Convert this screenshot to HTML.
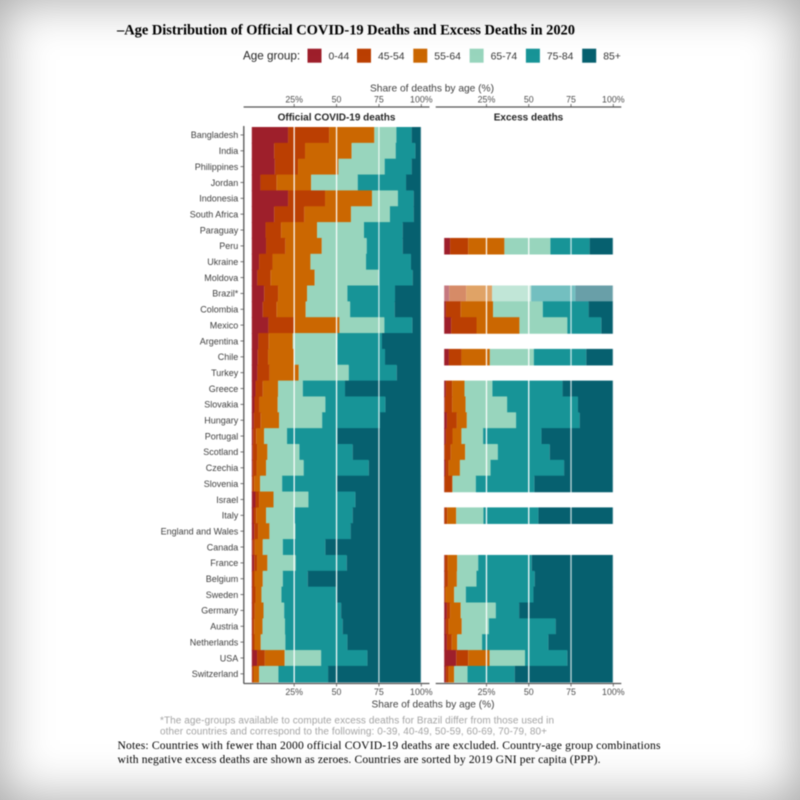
<!DOCTYPE html>
<html lang="en">
<head>
<meta charset="utf-8">
<title>Age Distribution of Official COVID-19 Deaths and Excess Deaths in 2020</title>
<style>
html,body{margin:0;padding:0;background:#fff;}
#frame{position:relative;width:800px;height:800px;overflow:hidden;background:#fff;}
#chart{position:absolute;left:0;top:0;filter:blur(0.45px);}
#vignette{position:absolute;left:0;top:0;width:800px;height:800px;box-shadow:inset 0 0 50px rgba(0,0,0,.36);pointer-events:none;}
text{font-family:"Liberation Sans",Arial,sans-serif;}
.serif{font-family:"Liberation Serif","Times New Roman",serif;fill:#000;}
</style>
</head>
<body>
<div id="frame">
<svg id="chart" width="800" height="800" viewBox="0 0 800 800" xmlns="http://www.w3.org/2000/svg">
  <text class="serif" x="117" y="34.5" font-size="14.5" font-weight="700" textLength="458" lengthAdjust="spacing">–Age Distribution of Official COVID-19 Deaths and Excess Deaths in 2020</text>
  <text x="243" y="59.5" font-size="11.7" fill="#262626">Age group:</text>
  <g id="legend"></g>
  <text x="432" y="91.5" font-size="10.2" fill="#404040" text-anchor="middle">Share of deaths by age (%)</text>
  <text x="336.5" y="120.5" font-size="10" font-weight="700" fill="#262626" text-anchor="middle">Official COVID-19 deaths</text>
  <text x="528.5" y="120.5" font-size="10" font-weight="700" fill="#262626" text-anchor="middle">Excess deaths</text>
  <g id="bars"></g>
  <g id="grid"></g>
  <g id="axes"></g>
  <text x="433" y="707.5" font-size="10.1" fill="#404040" text-anchor="middle">Share of deaths by age (%)</text>
  <text x="160" y="723.5" font-size="10" fill="#a3a3a3" textLength="394" lengthAdjust="spacing">*The age-groups available to compute excess deaths for Brazil differ from those used in</text>
  <text x="160" y="734.5" font-size="10" fill="#a3a3a3" textLength="387" lengthAdjust="spacing">other countries and correspond to the following: 0-39, 40-49, 50-59, 60-69, 70-79, 80+</text>
  <text class="serif" x="117.5" y="749" font-size="11.6" textLength="543" lengthAdjust="spacing">Notes: Countries with fewer than 2000 official COVID-19 deaths are excluded. Country-age group combinations</text>
  <text class="serif" x="117.5" y="763" font-size="11.6" textLength="483" lengthAdjust="spacing">with negative excess deaths are shown as zeroes. Countries are sorted by 2019 GNI per capita (PPP).</text>
</svg>
<div id="vignette"></div>
</div>
<script>
const countries = ["Bangladesh","India","Philippines","Jordan","Indonesia","South Africa","Paraguay","Peru","Ukraine","Moldova","Brazil*","Colombia","Mexico","Argentina","Chile","Turkey","Greece","Slovakia","Hungary","Portugal","Scotland","Czechia","Slovenia","Israel","Italy","England and Wales","Canada","France","Belgium","Sweden","Germany","Austria","Netherlands","USA","Switzerland"];
const ageGroups = ["0-44","45-54","55-64","65-74","75-84","85+"];
const ageColors = ["#9e1f2b","#bb3f02","#cb6701","#98d5bd","#179497","#06606f"];
const tickValues = [25,50,75,100];
const tickLabels = ["25%","50","75","100%"];

const official0044 = [21.4,13.2,13.6,5.1,21.4,13.2,8.1,8.4,4.3,3.3,7.3,6.5,9.8,3.9,3.5,3.3,2.2,1.6,1.2,0.8,0.6,0.6,0.3,2.2,1,1.4,0.6,1.4,0.4,0.4,0.4,0.4,0.4,3.1,0.2];
const official4554 = [24.2,18.2,13.7,9.6,21.8,17.8,9.2,11.4,7.9,7.9,8.2,8.2,15.2,6.1,6.1,7.1,4.3,2.9,4.1,1.8,2.5,2.2,1.1,2.1,1.6,2.3,1.2,1.7,1.2,1.8,1.4,1,1.2,4.6,0.8];
const official5564 = [26.7,27.5,23.8,20.3,27.7,27.5,21.2,21.5,22.4,25.9,17.1,17.1,26.7,14.2,15.5,17.3,9,10.8,10.8,4.7,6.1,5.6,3.5,8.5,5.8,6.7,4.7,6.1,4.9,3.5,5.1,4.9,3.7,11.7,3.3];
const official6574 = [13,26,27.3,27.5,15.3,23,27.7,26.5,32.8,37.8,23.8,26.2,26.5,26.3,25.4,29.5,14.6,28.1,25.4,13.5,18.9,22.2,13,20.6,16.4,15.3,11.8,16.7,11.8,11.8,12.2,13.3,14.5,21.5,11.4];
const official7584 = [9,11.6,15.9,28.5,9.3,14,22.8,21.2,26.5,20,28.1,26.3,16.5,26.3,28.1,28.3,24.9,35.4,34.1,29.7,31.4,38.4,32.2,27.7,34.7,32.6,25.1,30.1,14.7,32.5,33.6,34,36.6,27.3,29.3];
const official85 = [5.7,3.5,5.7,9,4.5,4.5,11,11,6.1,5.1,15.5,15.7,5.3,23.2,21.4,14.5,45,21.2,24.4,49.5,40.5,31,49.9,38.9,40.5,41.7,56.6,44,67,50,47.3,46.4,43.6,31.8,55];

const excess0044 = [null,null,null,null,null,null,null,3.5,null,null,3,1,4.1,null,2.8,null,1,0.4,1.6,1,0.2,0.8,0.2,null,0.2,null,null,0.4,0.4,0.2,1.6,1,1.6,7.1,1];
const excess4554 = [null,null,null,null,null,null,null,10.7,null,null,10,8.8,15,null,7.4,null,3.7,4.3,5.9,3.9,3.7,1.8,4.5,null,1.6,null,null,1.6,1.8,0.6,1.9,1.6,2.9,7.1,1.6];
const excess5564 = [null,null,null,null,null,null,null,21.4,null,null,15.3,19.1,25.4,null,16.8,null,7.3,7.9,5.9,5.3,8.5,6.7,0.2,null,5.3,null,null,5.7,5.3,5.1,6.3,7.8,3.2,12.6,3.3];
const excess6574 = [null,null,null,null,null,null,null,27.2,null,null,23.1,29.4,28.3,null,26,null,16.5,24.6,29.1,12.8,19.3,18.1,13.8,null,16.1,null,null,12.4,11.6,6.9,20.7,16,14.7,21,7.9];
const excess7584 = [null,null,null,null,null,null,null,23.2,null,null,26.2,27.1,20.1,null,31,null,41.5,41.9,37.6,34.5,30.7,43.5,34.6,null,32.5,null,null,31.7,34.4,40,13.8,39.5,39.2,25,27.9];
const excess85 = [null,null,null,null,null,null,null,14,null,null,22.4,14.6,7.1,null,16,null,30,20.9,19.9,42.5,37.6,29.1,46.7,null,44.3,null,null,48.2,46.5,47.2,55.7,34.1,38.4,27.2,58.3];

const officialSeries = [official0044,official4554,official5564,official6574,official7584,official85];
const excessSeries = [excess0044,excess4554,excess5564,excess6574,excess7584,excess85];

const SVG_NS = "http://www.w3.org/2000/svg";
const ROW_TOP = 127;
const ROW_STEP = 15.85;
const AXIS_TOP = 107;
const AXIS_BOTTOM = 683.5;
const panels = [
  {key:"official", x0:251.8, unit:1.695, axisStart:243.6, axisEnd:429.5, series:officialSeries},
  {key:"excess", x0:444.2, unit:1.691, axisStart:435.7, axisEnd:621.3, series:excessSeries}
];

function make(tag, attrs, text) {
  const el = document.createElementNS(SVG_NS, tag);
  for (const k in attrs) el.setAttribute(k, attrs[k]);
  if (text !== undefined) el.textContent = text;
  return el;
}
function xScale(panel, v) { return panel.x0 + v * panel.unit; }
function yBand(i) { return ROW_TOP + i * ROW_STEP; }
function slug(s) { return s.toLowerCase().replace(/[^a-z0-9]+/g, "-").replace(/-$/, ""); }

const barsGroup = document.getElementById("bars");
const gridGroup = document.getElementById("grid");
const axesGroup = document.getElementById("axes");
const legendGroup = document.getElementById("legend");

panels.forEach(function (panel) {
  countries.forEach(function (country, r) {
    if (panel.series[0][r] === null) return;
    const row = make("g", {opacity: (panel.key === "excess" && country === "Brazil*") ? 0.6 : 1});
    
    
    let cumulative = 0;
    panel.series.forEach(function (values, s) {
      const start = cumulative;
      cumulative += values[r];
      const x1 = xScale(panel, start);
      const x2 = xScale(panel, cumulative);
      const seg = make("rect", {x: x1, y: yBand(r), width: Math.max(0, x2 - x1), height: ROW_STEP + 0.7, fill: ageColors[s]});
      
      
      row.appendChild(seg);
    });
    barsGroup.appendChild(row);
  });

  tickValues.forEach(function (t, i) {
    const x = xScale(panel, t);
    const line = make("line", {x1: x, x2: x, y1: ROW_TOP, y2: AXIS_BOTTOM - 1, stroke: "#fff", "stroke-width": 1.3, "stroke-opacity": t === 25 || t === 50 ? 0.95 : 0.75});
    
    
    gridGroup.appendChild(line);

    const topTick = make("line", {x1: x, x2: x, y1: AXIS_TOP - 3, y2: AXIS_TOP, stroke: "#555", "stroke-width": 0.8});
    
    
    axesGroup.appendChild(topTick);

    const topLabel = make("text", {x: x, y: 102.5, "font-size": 8.8, fill: "#4d4d4d", "text-anchor": "middle"}, tickLabels[i]);
    
    
    axesGroup.appendChild(topLabel);

    const bottomTick = make("line", {x1: x, x2: x, y1: AXIS_BOTTOM, y2: AXIS_BOTTOM + 3, stroke: "#555", "stroke-width": 0.8});
    
    
    axesGroup.appendChild(bottomTick);

    const bottomLabel = make("text", {x: x, y: 695, "font-size": 8.8, fill: "#4d4d4d", "text-anchor": "middle"}, tickLabels[i]);
    
    
    axesGroup.appendChild(bottomLabel);
  });

  const topAxis = make("line", {x1: panel.axisStart, x2: panel.axisEnd, y1: AXIS_TOP, y2: AXIS_TOP, stroke: "#555", "stroke-width": 1.3});
  
  
  axesGroup.appendChild(topAxis);

  const bottomAxis = make("line", {x1: panel.axisStart, x2: panel.axisEnd, y1: AXIS_BOTTOM, y2: AXIS_BOTTOM, stroke: "#555", "stroke-width": 1.3});
  
  
  axesGroup.appendChild(bottomAxis);
});

const yAxis = make("line", {x1: 243.8, x2: 243.8, y1: ROW_TOP - 1, y2: AXIS_BOTTOM, stroke: "#555", "stroke-width": 1.3});


axesGroup.appendChild(yAxis);

countries.forEach(function (country, r) {
  const cy = yBand(r) + ROW_STEP / 2;
  const tick = make("line", {x1: 240.5, x2: 243.5, y1: cy, y2: cy, stroke: "#555", "stroke-width": 0.8});
  
  
  axesGroup.appendChild(tick);

  const label = make("text", {x: 238.3, y: cy + 3.3, "font-size": 9, fill: "#404040", "text-anchor": "end"}, country);
  
  
  axesGroup.appendChild(label);
});

const legendStart = 307.5;
const legendStep = 56.3;
ageGroups.forEach(function (group, i) {
  const entry = make("g", {});
  
  
  const kx = legendStart + i * legendStep + (i > 0 ? -6.8 : 0);
  const swatch = make("rect", {x: kx, y: 48.7, width: 14, height: 14, fill: ageColors[i]});
  
  
  entry.appendChild(swatch);
  const text = make("text", {x: kx + 21, y: 59.5, "font-size": 10.4, fill: "#333"}, group);
  
  
  entry.appendChild(text);
  legendGroup.appendChild(entry);
});
</script>
</body>
</html>
